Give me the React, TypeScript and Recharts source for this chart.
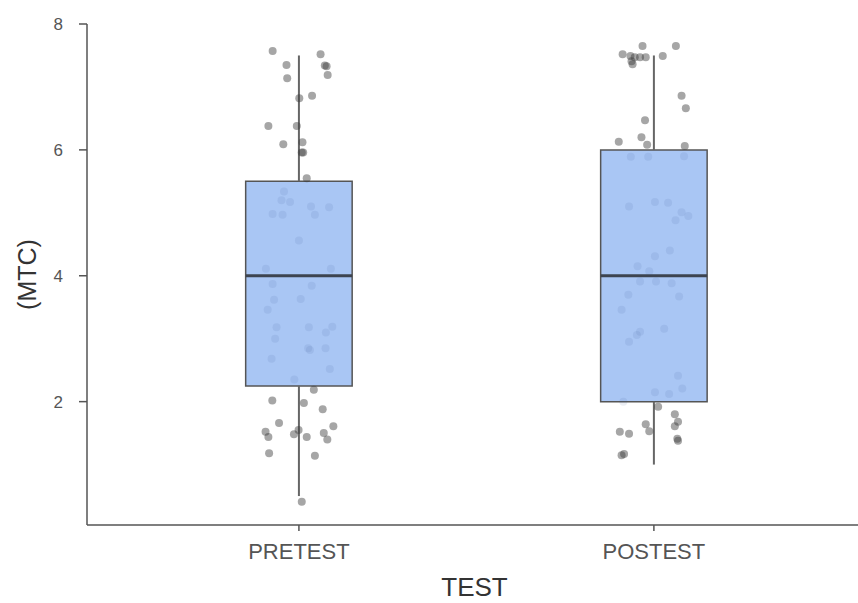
import {
  ComposedChart,
  XAxis,
  YAxis,
  Scatter,
  ReferenceArea,
  ReferenceLine,
} from 'recharts'

const categories = ['PRETEST', 'POSTEST']
const q1s = [2.25, 2.0]
const medians = [4.0, 4.0]
const q3s = [5.5, 6.0]
const whiskerLows = [0.5, 1.0]
const whiskerHighs = [7.5, 7.5]
const yTicks = [2, 4, 6, 8]

// observed scores and their horizontal jitter (in category units)
const pretestValues = [
  7.57, 7.52, 7.35, 7.34, 7.33, 7.19, 7.14, 6.82, 6.86, 6.38, 6.38, 6.12, 6.09, 5.96, 5.96,
  5.55, 5.34, 5.2, 5.17, 4.98, 4.97, 5.1, 4.97, 5.09, 4.56, 4.11, 4.11, 3.87, 3.84, 3.62,
  3.63, 3.46, 3.18, 3.18, 3.19, 3.1, 3.0, 2.85, 2.82, 2.85, 2.68, 2.52, 2.35, 2.19, 2.02,
  1.98, 1.88, 1.66, 1.61, 1.52, 1.44, 1.55, 1.48, 1.44, 1.5, 1.4, 1.18, 1.14, 0.41,
]
const pretestJitter = [
  -0.074, 0.061, -0.035, 0.073, 0.078, 0.081, -0.033, 0.001, 0.037, -0.086, -0.006, 0.01,
  -0.044, 0.008, 0.012, 0.022, -0.042, -0.049, -0.025, -0.074, -0.046, 0.034, 0.045, 0.085,
  0, -0.093, 0.09, -0.074, 0.036, -0.07, 0.005, -0.088, -0.063, 0.028, 0.094, 0.076, -0.067,
  0.026, 0.031, 0.075, -0.077, 0.087, -0.013, 0.042, -0.075, 0.014, 0.067, -0.056, 0.097,
  -0.094, -0.086, -0.001, -0.014, 0.022, 0.07, 0.08, -0.084, 0.045, 0.008,
]
const postestValues = [
  7.65, 7.65, 7.52, 7.49, 7.47, 7.41, 7.36, 7.47, 7.47, 7.49, 6.86, 6.66, 6.47, 6.2, 6.13,
  6.08, 6.06, 5.89, 5.89, 5.9, 5.1, 5.17, 5.16, 5.01, 4.95, 4.88, 4.31, 4.4, 4.15, 4.07,
  3.91, 3.91, 3.88, 3.7, 3.67, 3.46, 3.16, 3.11, 3.06, 2.95, 2.41, 2.21, 2.15, 2.12, 2.0,
  1.92, 1.8, 1.68, 1.61, 1.64, 1.53, 1.52, 1.49, 1.41, 1.38, 1.15, 1.17,
]
const postestJitter = [
  -0.032, 0.062, -0.088, -0.066, -0.054, -0.063, -0.06, -0.039, -0.023, 0.025, 0.078, 0.09,
  -0.025, -0.035, -0.099, -0.019, 0.087, -0.065, -0.016, 0.085, -0.07, 0.003, 0.04, 0.078,
  0.097, 0.061, 0.003, 0.045, -0.046, -0.013, -0.039, 0.006, 0.05, -0.072, 0.071, -0.091,
  0.029, -0.039, -0.048, -0.07, 0.068, 0.08, 0.003, 0.043, -0.086, 0.012, 0.059, 0.068, 0.059,
  -0.023, -0.013, -0.096, -0.07, 0.066, 0.068, -0.091, -0.084,
]

const BOX_HALF = 0.15
const BOX_FILL = '#a9c6f4'
const EDGE = '#555'

const pretestData = pretestValues.map((v, i) => ({ x: 1 + pretestJitter[i], y: v }))
const postestData = postestValues.map((v, i) => ({ x: 2 + postestJitter[i], y: v }))

function makeDot(group: number) {
  return (props: any) => {
    const inside = props.payload.y >= q1s[group] && props.payload.y <= q3s[group]
    return (
      <circle
        cx={props.cx}
        cy={props.cy}
        r={4}
        fill={inside ? '#3b5d92' : '#3a3a3a'}
        fillOpacity={inside ? 0.1 : 0.45}
      />
    )
  }
}

const YTitle = (props: any) => {
  const vb = props.viewBox
  const x = vb.x + 27
  const y = vb.y + vb.height / 2
  return (
    <text
      x={x}
      y={y}
      transform={`rotate(-90, ${x}, ${y})`}
      textAnchor="middle"
      dominantBaseline="central"
      fontSize={25}
      fill="#333"
    >
      (MTC)
    </text>
  )
}

const XTitle = (props: any) => {
  const vb = props.viewBox
  return (
    <text x={vb.x + vb.width / 2 + 2} y={vb.y + 71} textAnchor="middle" fontSize={26} fill="#333">
      TEST
    </text>
  )
}

export default function App() {
  return (
    <div
      style={{
        position: 'absolute',
        left: 0,
        top: 0,
        fontFamily: '"Liberation Sans", Arial, sans-serif',
        background: '#fff',
      }}
    >
      <ComposedChart width={858} height={603} margin={{ top: 24, right: 0, bottom: 0, left: 0 }}>
        <XAxis
          type="number"
          dataKey="x"
          domain={[0.403, 2.575]}
          ticks={[1, 2]}
          tickFormatter={(v: number) => categories[v - 1]}
          tickSize={6}
          tickMargin={12}
          height={78}
          axisLine={{ stroke: EDGE, strokeWidth: 1.5 }}
          tickLine={{ stroke: EDGE, strokeWidth: 1.5 }}
          tick={{ fontSize: 22, fill: '#555' }}
          label={XTitle}
        />
        <YAxis
          type="number"
          dataKey="y"
          domain={[0.04, 8]}
          ticks={yTicks}
          interval={0}
          width={87}
          tickSize={8}
          tickMargin={16}
          axisLine={{ stroke: EDGE, strokeWidth: 1.5 }}
          tickLine={{ stroke: EDGE, strokeWidth: 1.5 }}
          tick={{ fontSize: 17, fill: '#555' }}
          label={YTitle}
        />
        {categories.map((c, i) => (
          <ReferenceLine
            key={'wl' + c}
            segment={[
              { x: i + 1, y: whiskerLows[i] },
              { x: i + 1, y: q1s[i] },
            ]}
            stroke="#666"
            strokeWidth={2}
          />
        ))}
        {categories.map((c, i) => (
          <ReferenceLine
            key={'wh' + c}
            segment={[
              { x: i + 1, y: q3s[i] },
              { x: i + 1, y: whiskerHighs[i] },
            ]}
            stroke="#666"
            strokeWidth={2}
          />
        ))}
        {categories.map((c, i) => (
          <ReferenceArea
            key={'b' + c}
            x1={i + 1 - BOX_HALF}
            x2={i + 1 + BOX_HALF}
            y1={q1s[i]}
            y2={q3s[i]}
            fill={BOX_FILL}
            fillOpacity={1}
            stroke={EDGE}
            strokeWidth={1.5}
          />
        ))}
        {categories.map((c, i) => (
          <ReferenceLine
            key={'m' + c}
            segment={[
              { x: i + 1 - BOX_HALF, y: medians[i] },
              { x: i + 1 + BOX_HALF, y: medians[i] },
            ]}
            stroke="#3d4450"
            strokeWidth={3}
          />
        ))}
        <Scatter data={pretestData} shape={makeDot(0)} isAnimationActive={false} />
        <Scatter data={postestData} shape={makeDot(1)} isAnimationActive={false} />
      </ComposedChart>
    </div>
  )
}
